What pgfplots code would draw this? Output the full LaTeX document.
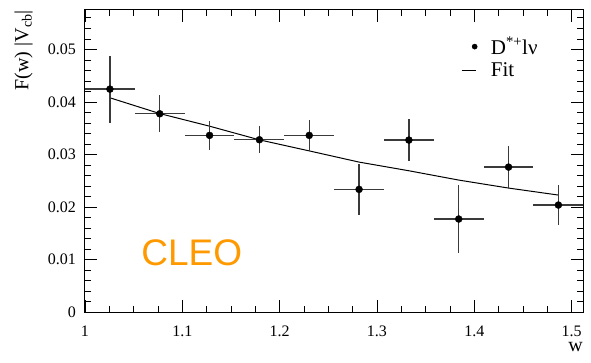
\documentclass[border=0pt]{standalone}
\usepackage{fontspec}
\setmainfont{Liberation Serif}
\newfontfamily\sansf{Liberation Sans}
\usepackage{pgfplots}
\pgfplotsset{compat=1.18}
\definecolor{cleo}{HTML}{FF9900}
\definecolor{errc}{HTML}{3A3A3A}
\pgfplotstableread{
x       y        ex      ey
1.0256  0.04245  0.0256  0.00635
1.0768  0.03776  0.0256  0.00352
1.1280  0.03365  0.0256  0.00275
1.1792  0.03282  0.0256  0.00256
1.2304  0.03365  0.0256  0.00295
1.2816  0.02338  0.0256  0.00485
1.3328  0.03276  0.0256  0.00403
1.3840  0.01774  0.0256  0.00645
1.4352  0.02762  0.0256  0.00395
1.4864  0.02040  0.0256  0.00380
}\datatab
\pgfplotstableread{
x       y
1.0256  0.0408
1.0768  0.0378
1.1280  0.0354
1.1792  0.0328
1.2304  0.0307
1.2816  0.02857
1.3328  0.02692
1.3840  0.02515
1.4352  0.02363
1.4864  0.0223
}\fittab
\begin{document}
\begin{tikzpicture}
\path[use as bounding box] (-85pt,-49.7pt) rectangle (506pt,312.3pt);
\begin{axis}[
  scale only axis, width=498.3pt, height=302.3pt,
  at={(0,0)}, anchor=south west,
  xmin=1, xmax=1.512, ymin=0, ymax=0.0575,
  scaled ticks=false,
  xtick={1,1.1,1.2,1.3,1.4,1.5},
  xticklabels={1,1.1,1.2,1.3,1.4,1.5},
  minor xtick={1.025,1.05,1.075,1.125,1.15,1.175,1.225,1.25,1.275,1.325,1.35,1.375,1.425,1.45,1.475},
  ytick={0,0.01,0.02,0.03,0.04,0.05},
  yticklabels={0,0.01,0.02,0.03,0.04,0.05},
  minor ytick={0.002,0.004,0.006,0.008,0.012,0.014,0.016,0.018,0.022,0.024,0.026,0.028,0.032,0.034,0.036,0.038,0.042,0.044,0.046,0.048,0.052,0.054,0.056},
  tick align=inside, tick pos=both,
  major tick length=12pt, minor tick length=6pt,
  every tick/.style={black, line width=0.8pt},
  axis line style={line width=1pt},
  ticklabel style={font=\fontsize{16}{16}\selectfont},
  xticklabel style={inner sep=0pt, anchor=north, yshift=-13pt},
  yticklabel style={inner sep=0pt, anchor=east, xshift=-9pt},
  xlabel={w},
  xlabel style={font=\fontsize{20}{20}\selectfont, inner sep=0pt, anchor=north east, at={(axis description cs:0.9994,-0.097)}},
  ylabel={F(w) |V\textsubscript{cb}|},
  ylabel style={font=\fontsize{20}{20}\selectfont, inner sep=0pt, anchor=south east, at={(axis description cs:-0.1044,1)}},
  legend style={draw=none, fill=none, at={(rel axis cs:0.7545,0.917)}, anchor=north west, inner sep=0pt, font=\fontsize{21}{21}\selectfont, row sep=3pt},
  legend cell align=left,
]
\addplot[black, line width=1pt, forget plot] table[x=x,y=y] {\fittab};
\addplot[only marks, mark=*, mark size=3.5pt, black, forget plot,
  error bars/.cd, x dir=both, x explicit, y dir=both, y explicit,
  error bar style={errc, line width=1.3pt}, error mark=none]
  table[x=x, y=y, x error=ex, y error=ey] {\datatab};
\addlegendimage{legend image code/.code={\fill[black] (13pt,0pt) circle (2.6pt); \path (0pt,0pt) (27pt,0pt);}}
\addlegendentry{D\textsuperscript{*+}lν}
\addlegendimage{legend image code/.code={\draw[black, line width=1pt] (0pt,0pt) -- (14pt,0pt); \path (27pt,0pt);}}
\addlegendentry{Fit}
\node[font=\sansf\fontsize{37}{37}\selectfont, text=cleo] at (axis cs:1.1097,0.01127) {CLEO};
\end{axis}
\end{tikzpicture}
\end{document}
